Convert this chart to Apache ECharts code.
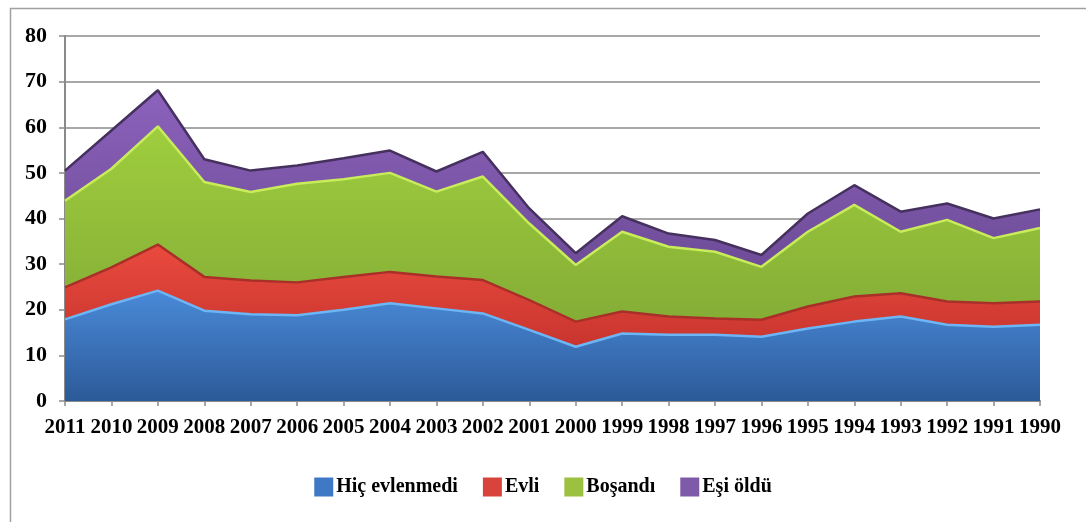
<!DOCTYPE html>
<html>
<head>
<meta charset="utf-8">
<script src="https://cdn.jsdelivr.net/npm/echarts@6/dist/echarts.min.js"></script>
<style>
  html, body { margin: 0; padding: 0; background: #fff; }
  #chart-container { width: 1086px; height: 522px; }
</style>
</head>
<body>
<div id="chart-container"></div>
<script>
var years = ["2011", "2010", "2009", "2008", "2007", "2006", "2005", "2004", "2003", "2002", "2001",
  "2000", "1999", "1998", "1997", "1996", "1995", "1994", "1993", "1992", "1991", "1990"];
var yTicks = [0, 10, 20, 30, 40, 50, 60, 70, 80];
var hicEvlenmedi = [17.9, 21.2, 24.2, 19.8, 19.0, 18.8, 20.0, 21.4, 20.3, 19.2, 15.6,
  11.9, 14.8, 14.5, 14.5, 14.1, 15.9, 17.4, 18.5, 16.7, 16.3, 16.7];
var evli = [7.0, 8.1, 10.1, 7.4, 7.4, 7.2, 7.2, 6.9, 7.0, 7.3, 6.5,
  5.5, 4.8, 4.0, 3.6, 3.7, 4.8, 5.5, 5.1, 5.1, 5.1, 5.1];
var bosandi = [19.0, 21.6, 25.9, 20.8, 19.4, 21.6, 21.4, 21.7, 18.6, 22.7, 16.8,
  12.4, 17.5, 15.3, 14.6, 11.6, 16.4, 20.1, 13.5, 17.9, 14.3, 16.1];
var esiOldu = [6.6, 8.4, 7.9, 5.0, 4.7, 4.0, 4.6, 4.9, 4.4, 5.4, 3.3,
  2.6, 3.4, 2.9, 2.6, 2.6, 4.0, 4.3, 4.4, 3.6, 4.3, 4.1];
var names = ["Hiç evlenmedi", "Evli", "Boşandı", "Eşi öldü"];

var font = "'Liberation Serif', 'Times New Roman', serif";

var dom = document.getElementById("chart-container");
var myChart = echarts.init(dom, null, { renderer: "canvas" });

function grad(top, bottom) {
  return new echarts.graphic.LinearGradient(0, 0, 0, 1, [
    { offset: 0, color: top },
    { offset: 1, color: bottom }
  ]);
}

function makeSeries(name, data, color, fillTop, fillBottom, edge) {
  return {
    name: name,
    type: "line",
    stack: "total",
    data: data,
    showSymbol: false,
    symbol: "none",
    itemStyle: { color: color },
    lineStyle: { color: edge, width: 2.5 },
    areaStyle: { color: grad(fillTop, fillBottom), opacity: 1 },
    emphasis: { disabled: true }
  };
}

var option = {
  animation: false,
  graphic: [{
    type: "rect",
    left: 8,
    top: 6,
    shape: { width: 1200, height: 700 },
    style: { fill: "none", stroke: "#a0a0a0", lineWidth: 1.5 },
    silent: true
  }],
  grid: { left: 65, right: 46, top: 36, bottom: 121 },
  legend: {
    data: names,
    left: "center",
    top: 472,
    icon: "rect",
    itemWidth: 19,
    itemHeight: 19,
    itemGap: 25,
    textStyle: { fontFamily: font, fontWeight: "bold", fontSize: 20, color: "#000", padding: [0, 0, 0, -2] }
  },
  xAxis: {
    type: "category",
    boundaryGap: false,
    data: years,
    axisLine: { lineStyle: { color: "#8a8a8a", width: 2 } },
    axisTick: { show: true, length: 5, lineStyle: { color: "#8a8a8a", width: 1.5 } },
    axisLabel: { interval: 0, margin: 16, fontFamily: font, fontWeight: "bold", fontSize: 21, color: "#000" }
  },
  yAxis: {
    type: "value",
    min: yTicks[0],
    max: yTicks[yTicks.length - 1],
    interval: 10,
    axisLine: { show: true, lineStyle: { color: "#8a8a8a", width: 2 } },
    axisTick: { show: true, length: 6, lineStyle: { color: "#8a8a8a", width: 1.5 } },
    splitLine: { lineStyle: { color: "#8a8a8a", width: 1.5 } },
    axisLabel: { margin: 18, fontFamily: font, fontWeight: "bold", fontSize: 22, color: "#000" }
  },
  series: [
    makeSeries(names[0], hicEvlenmedi, "#3f78c4", "#4a8ad8", "#2c5a98", "#6cb6f5"),
    makeSeries(names[1], evli, "#d8443c", "#ea4a3e", "#c8352e", "#a83028"),
    makeSeries(names[2], bosandi, "#9cc040", "#9fce3e", "#84ad36", "#c8ec5a"),
    makeSeries(names[3], esiOldu, "#7f5aa8", "#8c62bc", "#6e4c98", "#45305e")
  ]
};

myChart.setOption(option);
</script>
</body>
</html>
